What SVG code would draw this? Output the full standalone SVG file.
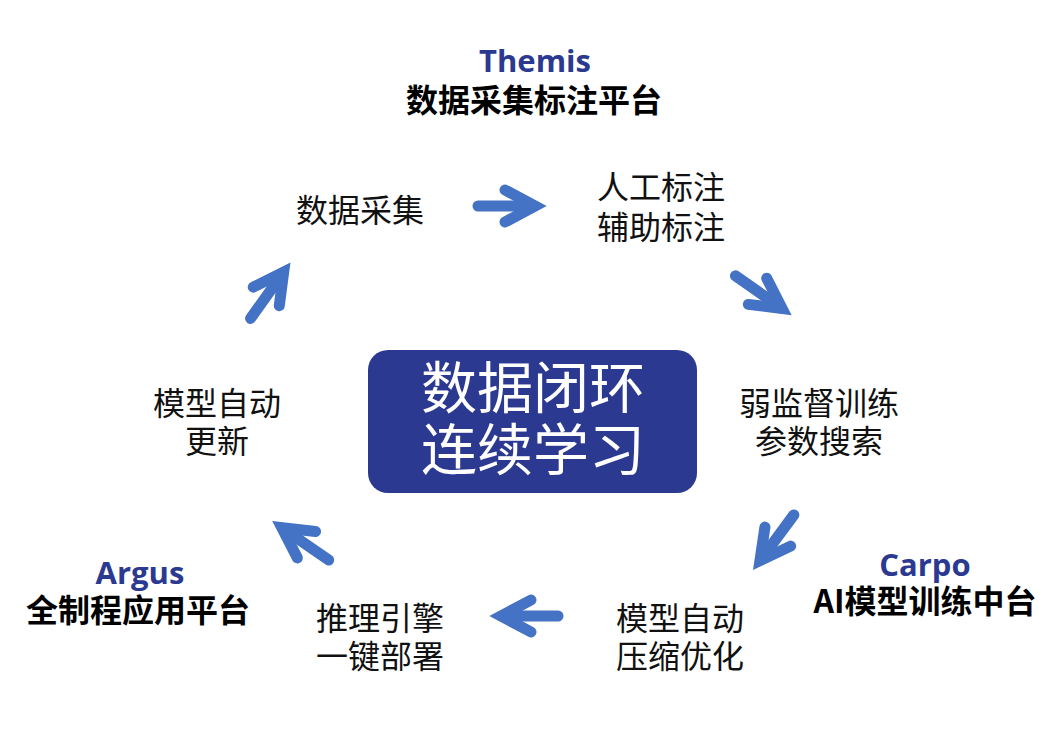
<svg xmlns="http://www.w3.org/2000/svg" width="1048" height="748" viewBox="0 0 1048 748">
<style>
.n{font-family:"Noto Sans CJK SC","Liberation Sans",sans-serif;font-size:32px;fill:#111;text-anchor:middle}
.t{font-family:"Open Sans","Liberation Sans",sans-serif;font-weight:bold;font-size:31px;fill:#2B3990;text-anchor:middle}
.s{font-family:"Noto Sans CJK SC",sans-serif;font-weight:bold;font-size:32px;fill:#000;text-anchor:middle}
.c{font-family:"Noto Sans CJK SC",sans-serif;font-size:56px;fill:#fff;text-anchor:middle}
.shaft{stroke:#4472C4;stroke-width:11;stroke-linecap:round;fill:none}
.head{stroke:#4472C4;stroke-width:11;stroke-linecap:round;stroke-linejoin:miter;stroke-miterlimit:10;fill:none}
</style>
<defs>
<g id="arr">
<path class="shaft" d="M-30 0 L26 0"/>
<path class="head" d="M-3 -16 L27 0 L-3 16"/>
</g>
</defs>
<rect width="1048" height="748" fill="#fff"/>
<g id="connectors">
<use href="#arr" transform="translate(508,206)"/>
<use href="#arr" transform="translate(760,293) rotate(35)"/>
<use href="#arr" transform="translate(776,539) rotate(126.5)"/>
<use href="#arr" transform="translate(528,616) rotate(180)"/>
<use href="#arr" transform="translate(304,543) rotate(214.6)"/>
<use href="#arr" transform="translate(268,294) rotate(-54.5)"/>
</g>
<g id="center">
<rect x="368" y="350" width="329" height="143" rx="20" fill="#2B3990"/>
<text class="c" x="533" y="408">数据闭环</text>
<text class="c" x="533" y="470">连续学习</text>
</g>
<g id="themis">
<text class="t" x="535" y="72">Themis</text>
<text class="s" x="534" y="112">数据采集标注平台</text>
</g>
<g id="carpo">
<text class="t" x="925" y="576">Carpo</text>
<text class="s" x="925" y="613">AI模型训练中台</text>
</g>
<g id="argus">
<text class="t" x="140" y="584">Argus</text>
<text class="s" x="138" y="622">全制程应用平台</text>
</g>
<g id="n1"><text class="n" x="360" y="222">数据采集</text></g>
<g id="n2"><text class="n" x="661" y="199">人工标注</text><text class="n" x="661" y="239">辅助标注</text></g>
<g id="n3"><text class="n" x="819" y="415">弱监督训练</text><text class="n" x="819" y="453">参数搜索</text></g>
<g id="n4"><text class="n" x="680" y="630">模型自动</text><text class="n" x="680" y="668">压缩优化</text></g>
<g id="n5"><text class="n" x="380" y="630">推理引擎</text><text class="n" x="380" y="668">一键部署</text></g>
<g id="n6"><text class="n" x="217" y="415">模型自动</text><text class="n" x="217" y="453">更新</text></g>
</svg>
